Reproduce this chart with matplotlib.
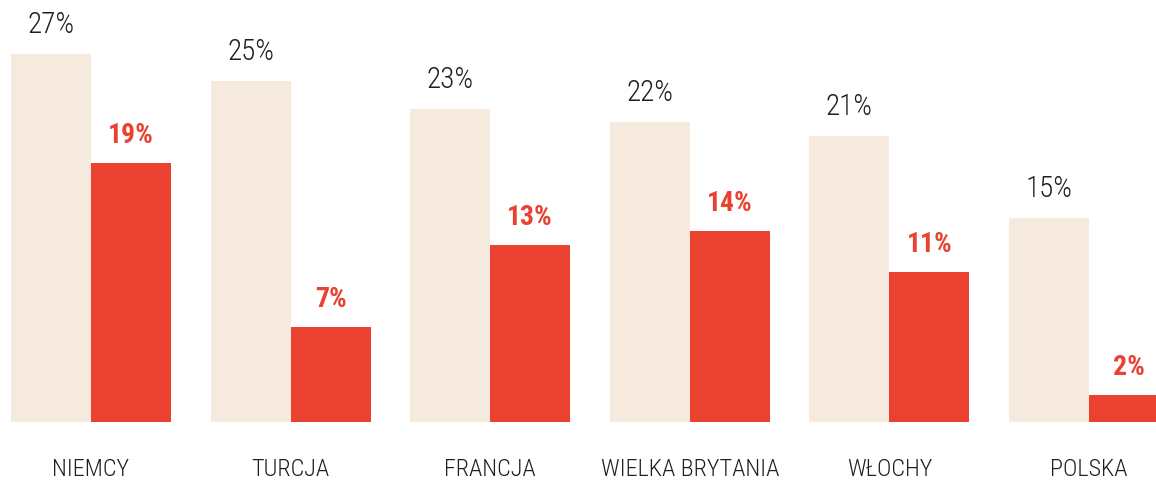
import matplotlib
matplotlib.use("Agg")
import matplotlib.pyplot as plt
from matplotlib import font_manager

categories = ["NIEMCY", "TURCJA", "FRANCJA", "WIELKA BRYTANIA", "WŁOCHY", "POLSKA"]
series_a = [27, 25, 23, 22, 21, 15]
series_b = [19, 7, 13, 14, 11, 2]

available = {f.name for f in font_manager.fontManager.ttflist}
family = "DejaVu Sans"
for cand in ["Roboto Condensed", "Liberation Sans Narrow", "Open Sans Condensed", "DejaVu Sans Condensed", "Noto Sans"]:
    if cand in available:
        family = cand
        break
stretch = "condensed" if family in ("DejaVu Sans", "Noto Sans") else "normal"

beige = "#F5EADD"
red = "#EA4130"
dark = "#1f1f1f"

step = 199.6
fig = plt.figure(figsize=(11.56, 4.81), dpi=100)
ax = fig.add_axes([0, 0, 1, 1])
x = list(range(len(categories)))
w = 80 / step
ax.bar([i - w / 2 for i in x], series_a, width=w, color=beige, linewidth=0)
ax.bar([i + w / 2 for i in x], series_b, width=w, color=red, linewidth=0)

px_per_unit = 368 / 27.0
for i, (a, b) in enumerate(zip(series_a, series_b)):
    ax.annotate(f"{a}%", (i - w / 2, a), xytext=(0, 16), textcoords="offset pixels",
                ha="center", va="bottom", fontsize=21, color=dark, family=family,
                fontweight="light", fontstretch=stretch)
    ax.annotate(f"{b}%", (i + w / 2, b), xytext=(0, 15), textcoords="offset pixels",
                ha="center", va="bottom", fontsize=20, color=red, family=family,
                fontweight="bold", fontstretch=stretch)
    ax.annotate(categories[i], (i, 0), xytext=(0, -58), textcoords="offset pixels",
                ha="center", va="bottom", fontsize=17.5, color=dark, family=family,
                fontweight="light", fontstretch=stretch)

ax.set_xlim(-91 / step, (1156 - 91) / step)
ax.set_ylim(-58 / px_per_unit, 423 / px_per_unit)
ax.axis("off")
fig.savefig("out.png", dpi=100, facecolor="white")
